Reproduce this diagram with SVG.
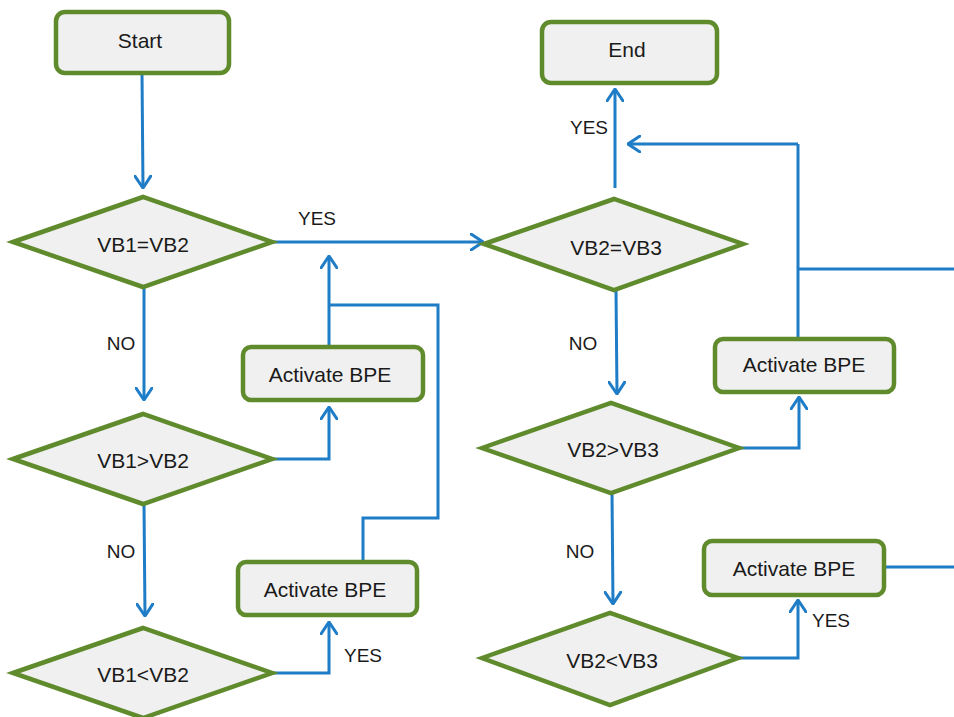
<svg xmlns="http://www.w3.org/2000/svg" width="954" height="717" viewBox="0 0 954 717">
<style>
.node rect,.node polygon{fill:#f0f0f0;stroke:#5f8b2d;stroke-width:4.5;stroke-linejoin:miter}
.node text{font-family:"Liberation Sans",Arial,sans-serif;font-size:21px;fill:#1a1a1a;text-anchor:middle}
.lbl{font-family:"Liberation Sans",Arial,sans-serif;font-size:19px;fill:#1a1a1a;text-anchor:middle}
#connectors path{fill:none;stroke:#1f7cc6;stroke-width:3}
.arr{marker-end:url(#ah)}
</style>
<defs>
<marker id="ah" viewBox="0 0 14 18" refX="13" refY="9" markerWidth="14" markerHeight="18" markerUnits="userSpaceOnUse" orient="auto">
<path d="M1,1 L13,9 L1,17" fill="none" stroke="#1f7cc6" stroke-width="3" stroke-linecap="round"/>
</marker>
</defs>
<g id="connectors">
<path class="arr" d="M142,73 L143,188"/>
<path class="arr" d="M272,242 L483,242"/>
<path class="arr" d="M144,287 L144,400"/>
<path class="arr" d="M144,504 L145,616"/>
<path class="arr" d="M272,459 L329,459 L329,407"/>
<path class="arr" d="M272,673 L329,673 L329,622"/>
<path class="arr" d="M329,347 L329,305 L329,256"/>
<path d="M329,305 L438,305 L438,518 L363,518 L363,562"/>
<path class="arr" d="M615,188 L615,89"/>
<path class="arr" d="M798,144 L628,144"/>
<path d="M798,339 L798,144"/>
<path d="M798,269 L954,269"/>
<path class="arr" d="M616,290 L617,394"/>
<path class="arr" d="M612,493 L613,604"/>
<path class="arr" d="M739,448 L799,448 L799,397"/>
<path class="arr" d="M738,658 L798,658 L798,600"/>
<path d="M884,567 L954,567"/>
</g>
<g id="start" class="node"><rect x="56" y="12" width="173" height="61" rx="9"/><text x="140" y="48">Start</text></g>
<g id="end" class="node"><rect x="542" y="22" width="175" height="61" rx="9"/><text x="627" y="57">End</text></g>
<g id="d1" class="node"><polygon points="13,242 143,197 272,242 143,287"/><text x="143" y="252">VB1=VB2</text></g>
<g id="d2" class="node"><polygon points="13,459 143,414 272,459 143,504"/><text x="143" y="468">VB1&gt;VB2</text></g>
<g id="d3" class="node"><polygon points="13,673 143,628 272,673 143,718"/><text x="143" y="682">VB1&lt;VB2</text></g>
<g id="d4" class="node"><polygon points="484,244 614,199 743,244 614,290"/><text x="616" y="255">VB2=VB3</text></g>
<g id="d5" class="node"><polygon points="482,448 611,403 739,448 611,493"/><text x="613" y="457">VB2&gt;VB3</text></g>
<g id="d6" class="node"><polygon points="482,658 610,613 738,658 610,705"/><text x="612" y="668">VB2&lt;VB3</text></g>
<g id="a1" class="node"><rect x="243" y="347" width="180" height="53" rx="8"/><text x="330" y="382">Activate BPE</text></g>
<g id="a2" class="node"><rect x="238" y="562" width="179" height="53" rx="8"/><text x="325" y="597">Activate BPE</text></g>
<g id="a3" class="node"><rect x="715" y="339" width="179" height="53" rx="8"/><text x="804" y="372">Activate BPE</text></g>
<g id="a4" class="node"><rect x="704" y="541" width="180" height="54" rx="8"/><text x="794" y="576">Activate BPE</text></g>
<g id="labels">
<text class="lbl" x="317" y="225">YES</text>
<text class="lbl" x="589" y="134">YES</text>
<text class="lbl" x="121" y="350">NO</text>
<text class="lbl" x="121" y="558">NO</text>
<text class="lbl" x="363" y="662">YES</text>
<text class="lbl" x="583" y="350">NO</text>
<text class="lbl" x="580" y="558">NO</text>
<text class="lbl" x="831" y="627">YES</text>
</g>
</svg>
